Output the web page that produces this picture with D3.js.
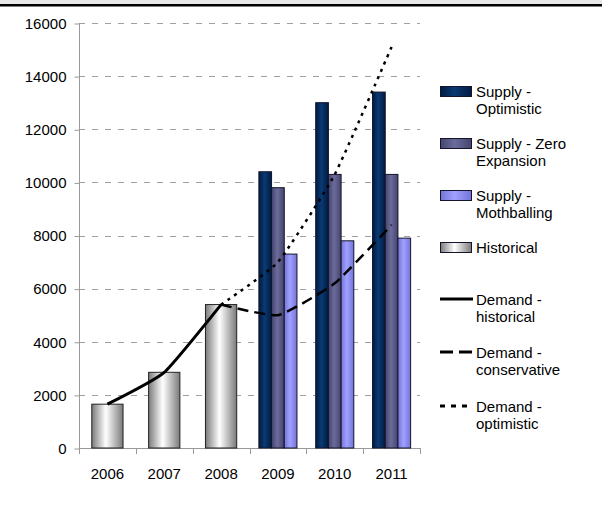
<!DOCTYPE html>
<html><head><meta charset="utf-8">
<script src="https://cdn.jsdelivr.net/npm/d3@7"></script>
<style>
html,body{margin:0;padding:0;background:#fff;}
svg{display:block;font-family:"Liberation Sans",Arial,sans-serif;}
</style></head>
<body>
<svg id="c" width="602" height="508"></svg>
<script>
const years = ['2006','2007','2008','2009','2010','2011'];
const historical = [1650, 2850, 5400, null, null, null];
const supplyOptimistic = [null, null, null, 10400, 13000, 13400];
const supplyZero = [null, null, null, 9800, 10300, 10300];
const supplyMoth = [null, null, null, 7300, 7800, 7900];
const demandHistorical = [1650, 2850, 5400, null, null, null];
const demandConservative = [null, null, 5400, 5000, 6200, 8400];
const demandOptimistic = [null, null, 5400, 7000, 10300, 15100];
const yTicks = [0, 2000, 4000, 6000, 8000, 10000, 12000, 14000, 16000];

const svg = d3.select('#c');
const defs = svg.append('defs');
function grad(id, edge, mid){
  const g = defs.append('linearGradient').attr('id', id).attr('x1','0%').attr('x2','100%').attr('y1','0%').attr('y2','0%');
  g.append('stop').attr('offset','0%').attr('stop-color', edge);
  g.append('stop').attr('offset','45%').attr('stop-color', mid);
  g.append('stop').attr('offset','100%').attr('stop-color', edge);
}
grad('gOpt', '#001a44', '#0a3a72');
grad('gZero', '#44446e', '#6c6c9c');
grad('gMoth', '#7474d8', '#a0a0ff');
grad('gHist', '#7a7a7a', '#ffffff');

// top strip
svg.append('rect').attr('x',0).attr('y',0).attr('width',602).attr('height',4).attr('fill','#e8e8e8');
svg.append('rect').attr('x',0).attr('y',4).attr('width',602).attr('height',2.5).attr('fill','#000');

const x = d3.scaleBand().domain(years).range([79, 420]).padding(0);
const y = d3.scaleLinear().domain([0, 16000]).range([448, 23]);

// gridlines
svg.append('g').selectAll('line').data(yTicks.filter(d => d > 0)).join('line')
  .attr('x1', 79).attr('x2', 420)
  .attr('y1', d => Math.round(y(d)) + 0.5).attr('y2', d => Math.round(y(d)) + 0.5)
  .attr('stroke', '#a0a0a0').attr('stroke-width', 1).attr('stroke-dasharray', '6,7');

// y axis
const yAxis = d3.axisLeft(y).tickValues(yTicks).tickSize(5).tickPadding(8).tickFormat(d3.format('d'));
const ga = svg.append('g').attr('transform', 'translate(79.5,0)').call(yAxis);
ga.select('.domain').attr('stroke', '#999').attr('d', 'M0,' + y(16000) + 'V' + (y(0)+0.5));
ga.selectAll('.tick line').attr('stroke', '#999').attr('transform','translate(0,0.5)');
ga.selectAll('.tick text').attr('font-size', 15).attr('fill', '#000').attr('font-family','"Liberation Sans",Arial,sans-serif').attr('dy','0.35em');

// x axis
const xAxis = d3.axisBottom(x).tickSize(0).tickPadding(20);
const gx = svg.append('g').attr('transform', 'translate(0,' + (y(0)+0.5) + ')').call(xAxis);
gx.select('.domain').attr('stroke', '#999').attr('d', 'M79,0H420');
gx.selectAll('.tick text').attr('font-size', 15).attr('fill', '#000').attr('font-family','"Liberation Sans",Arial,sans-serif');
const bounds = years.map(d => x(d)).concat([x(years[years.length-1]) + x.bandwidth()]);
svg.append('g').selectAll('line').data(bounds).join('line')
  .attr('x1', d => Math.round(d)+0.5).attr('x2', d => Math.round(d)+0.5)
  .attr('y1', y(0)).attr('y2', y(0)+6).attr('stroke', '#999');

// historical bars
const hw = x.bandwidth() * 0.55;
svg.append('g').selectAll('rect').data(years.map((d,i)=>({year:d,v:historical[i]})).filter(d=>d.v!=null)).join('rect')
  .attr('x', d => x(d.year) + (x.bandwidth()-hw)/2)
  .attr('y', d => y(d.v)).attr('width', hw).attr('height', d => y(0) - y(d.v))
  .attr('fill', 'url(#gHist)').attr('stroke', '#222').attr('stroke-width', 1);

// supply bars
const series = [
  {vals: supplyOptimistic, fill: 'url(#gOpt)'},
  {vals: supplyZero, fill: 'url(#gZero)'},
  {vals: supplyMoth, fill: 'url(#gMoth)'}
];
const gw = x.bandwidth() * 0.67;
const sub = d3.scaleBand().domain([0,1,2]).range([0, gw]).padding(0);
series.forEach((s, si) => {
  svg.append('g').selectAll('rect').data(years.map((d,i)=>({year:d,v:s.vals[i]})).filter(d=>d.v!=null)).join('rect')
    .attr('x', d => x(d.year) + (x.bandwidth()-gw)/2 + sub(si))
    .attr('y', d => y(d.v)).attr('width', sub.bandwidth()).attr('height', d => y(0) - y(d.v))
    .attr('fill', s.fill).attr('stroke', '#14142a').attr('stroke-width', 1);
});

// demand lines
const lineGen = d3.line().defined(d => d.v != null)
  .x(d => x(d.year) + x.bandwidth()/2).y(d => y(d.v)).curve(d3.curveCardinal.tension(0.55));
function drawLine(vals, dash, w){
  const data = years.map((d,i)=>({year:d, v: vals[i]})).filter(d => d.v != null);
  svg.append('path').datum(data).attr('d', lineGen)
    .attr('fill','none').attr('stroke','#000').attr('stroke-width', w)
    .attr('stroke-dasharray', dash);
}
drawLine(demandHistorical, null, 3);
drawLine(demandConservative, '11,6', 2.5);
drawLine(demandOptimistic, '3,5', 2.5);

// legend
const legend = [
  {type:'rect', fill:'url(#gOpt)', lines:['Supply -','Optimistic'], top:86},
  {type:'rect', fill:'url(#gZero)', lines:['Supply - Zero','Expansion'], top:138},
  {type:'rect', fill:'url(#gMoth)', lines:['Supply -','Mothballing'], top:190},
  {type:'rect', fill:'url(#gHist)', lines:['Historical'], top:242},
  {type:'line', dash:null, lines:['Demand -','historical'], top:294},
  {type:'line', dash:'13,6', lines:['Demand -','conservative'], top:347},
  {type:'line', dash:'5,6', lines:['Demand -','optimistic'], top:401}
];
const lg = svg.append('g');
legend.forEach(it => {
  if (it.type === 'rect') {
    lg.append('rect').attr('x', 440.5).attr('y', it.top + 0.5).attr('width', 31).attr('height', 10)
      .attr('fill', it.fill).attr('stroke', '#14142a').attr('stroke-width', 1);
  } else {
    lg.append('line').attr('x1', 440).attr('x2', 473).attr('y1', it.top + 5).attr('y2', it.top + 5)
      .attr('stroke', '#000').attr('stroke-width', 3).attr('stroke-dasharray', it.dash);
  }
  const t = lg.append('text').attr('x', 476).attr('y', it.top + 11).attr('font-size', 15).attr('fill','#000');
  it.lines.forEach((l, i) => {
    t.append('tspan').attr('x', 476).attr('dy', i === 0 ? 0 : 17.3).text(l);
  });
});
</script>
</body></html>
